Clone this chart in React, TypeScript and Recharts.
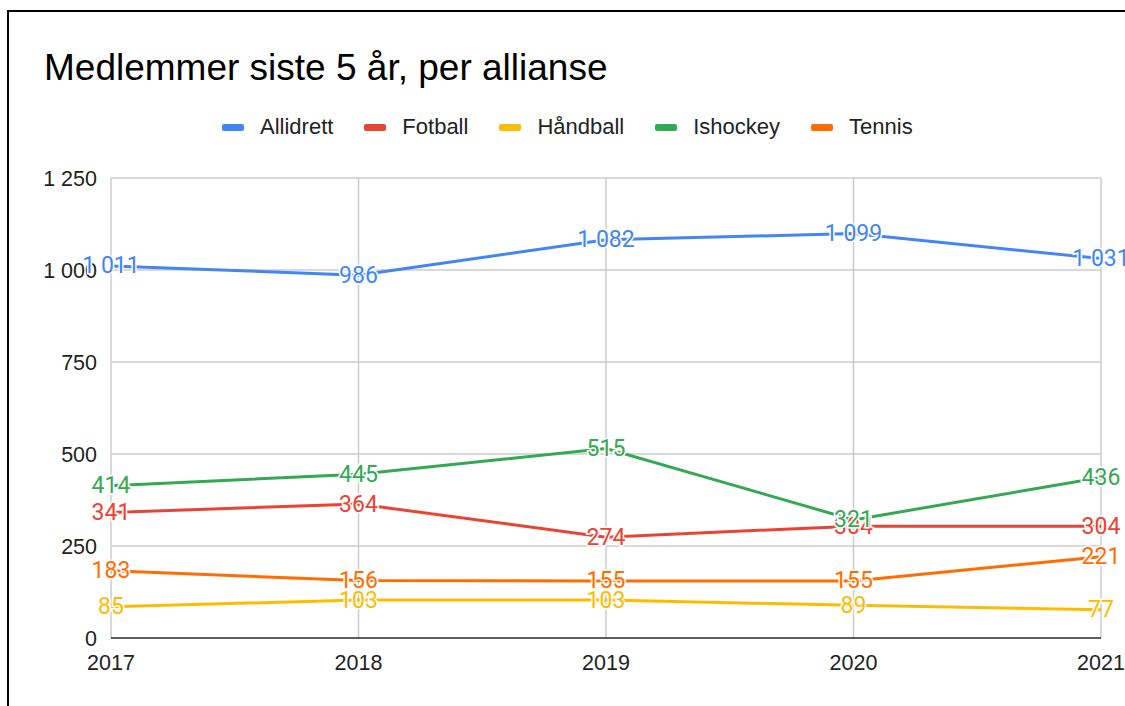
import React from "react";
import { CartesianGrid, Line, LineChart, XAxis, YAxis } from "recharts";

const years = ["2017", "2018", "2019", "2020", "2021"];
const allidrett = [1011, 986, 1082, 1099, 1031];
const fotball = [341, 364, 274, 304, 304];
const handball = [85, 103, 103, 89, 77];
const ishockey = [414, 445, 515, 321, 436];
const tennis = [183, 156, 155, 155, 221];
const yTicks = [0, 250, 500, 750, 1000, 1250];

const series = [
  { key: "allidrett", name: "Allidrett", color: "#4285F4", values: allidrett },
  { key: "fotball", name: "Fotball", color: "#EA4335", values: fotball },
  { key: "handball", name: "Håndball", color: "#FBBC04", values: handball },
  { key: "ishockey", name: "Ishockey", color: "#34A853", values: ishockey },
  { key: "tennis", name: "Tennis", color: "#FF6D01", values: tennis },
];

const data = years.map((year, i) => {
  const row: Record<string, string | number> = { year };
  series.forEach((s) => (row[s.key] = s.values[i]));
  return row;
});

const fmt = (v: number) => String(v).replace(/\B(?=(\d{3})+(?!\d))/g, " ");

const FONT = "'Liberation Sans', Arial, sans-serif";

const makeLabel = (color: string) => (props: any) => {
  const { x, y, value, index } = props;
  return (
    <text
      key={`l-${color}-${index}`}
      x={x}
      y={y}
      textAnchor="middle"
      dominantBaseline="central"
      fill={color}
      stroke="#fff"
      strokeWidth={3}
      paintOrder="stroke"
      fontSize={23}
      fontFamily="Roboto, sans-serif"
    >
      {fmt(value)}
    </text>
  );
};

const App: React.FC = () => {
  return (
    <div style={{ position: "fixed", inset: 0, overflow: "hidden", background: "#fff" }}>
      <div
        style={{
          position: "absolute",
          left: 7,
          top: 10,
          width: 1200,
          height: 800,
          border: "2px solid #000",
        }}
      />
      <div
        style={{
          position: "absolute",
          left: 44,
          top: 49,
          fontFamily: FONT,
          fontSize: 37,
          lineHeight: "37px",
          color: "#000",
          whiteSpace: "nowrap",
        }}
      >
        Medlemmer siste 5 år, per allianse
      </div>
      <div
        style={{
          position: "absolute",
          left: 222,
          top: 116,
          display: "flex",
          alignItems: "center",
          fontFamily: FONT,
          fontSize: 22,
          lineHeight: "22px",
          color: "#222",
          whiteSpace: "nowrap",
        }}
      >
        {series.map((s) => (
          <div key={s.key} style={{ display: "flex", alignItems: "center", marginRight: 31 }}>
            <span
              style={{
                display: "inline-block",
                width: 22,
                height: 7,
                borderRadius: 2,
                background: s.color,
                marginRight: 16,
              }}
            />
            <span>{s.name}</span>
          </div>
        ))}
      </div>
      <div style={{ position: "absolute", left: 0, top: 0 }}>
        <LineChart width={1125} height={706} data={data} margin={{ top: 178, right: 24, left: 0, bottom: 38 }}>
          <CartesianGrid stroke="#cccccc" strokeWidth={1.5} />
          <XAxis
            dataKey="year"
            axisLine={{ stroke: "#333", strokeWidth: 1.5 }}
            tickLine={false}
            tickMargin={11}
            tick={{ fill: "#222", fontSize: 21.5, fontFamily: FONT }}
            interval={0}
          />
          <YAxis
            width={111}
            domain={[0, 1250]}
            ticks={yTicks}
            axisLine={false}
            tickLine={false}
            tickMargin={8}
            tickFormatter={fmt}
            tick={{ fill: "#222", fontSize: 21.5, fontFamily: FONT }}
          />
          {series.map((s) => (
            <Line
              key={s.key}
              type="linear"
              dataKey={s.key}
              name={s.name}
              stroke={s.color}
              strokeWidth={3}
              dot={false}
              activeDot={false}
              isAnimationActive={false}
              label={makeLabel(s.color)}
            />
          ))}
        </LineChart>
      </div>
    </div>
  );
};

export default App;
